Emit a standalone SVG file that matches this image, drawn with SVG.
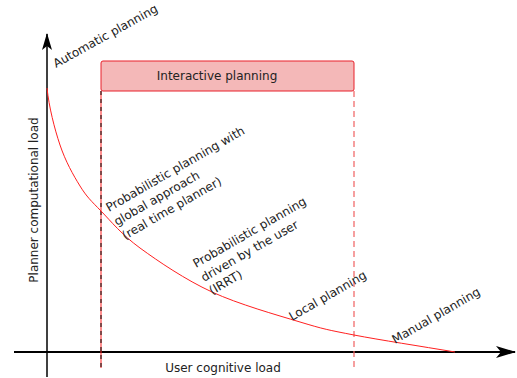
<svg xmlns="http://www.w3.org/2000/svg" width="517" height="378" viewBox="0 0 517 378">
<style>
text{font-family:"DejaVu Sans","Liberation Sans",sans-serif;font-size:12px;fill:#222}
.axis{stroke:#000;fill:none}
.curve{stroke:#ff2020;stroke-width:1;fill:none}
</style>
<defs>
<marker id="arr" viewBox="0 0 20 12" refX="19" refY="6" markerWidth="20" markerHeight="12" markerUnits="userSpaceOnUse" orient="auto">
<path d="M0,0 L20,6 L0,12 L5,6 Z" fill="#000"/>
</marker>
<marker id="arrS" viewBox="0 0 17 10" refX="16" refY="5" markerWidth="17" markerHeight="10" markerUnits="userSpaceOnUse" orient="auto">
<path d="M0,0 L17,5 L0,10 L4,5 Z" fill="#000"/>
</marker>
</defs>
<g id="connectors">
<line class="axis" x1="47" y1="377" x2="47" y2="34" stroke-width="1.5" marker-end="url(#arrS)"/>
<line class="axis" x1="14" y1="352" x2="515" y2="352" stroke-width="2" marker-end="url(#arr)"/>
<line x1="101" y1="91" x2="101" y2="368" stroke="#ff2020" stroke-width="1"/>
<line x1="101" y1="91" x2="101" y2="368" stroke="#000" stroke-width="1" stroke-dasharray="4,4"/>
<line x1="354" y1="91" x2="354" y2="368" stroke="#f06060" stroke-width="1.2" stroke-dasharray="6,4"/>
<path class="curve" d="M47,88 C49,107 54.5,128.7 60,145 C65.5,161.3 73.2,175 80,186 C86.8,197 91,200.7 101,211 C111,221.3 121.5,234.5 140,248 C158.5,261.5 185.3,279.7 212,292 C238.7,304.3 276.3,314.8 300,322 C323.7,329.2 328.2,330 354,335 C379.8,340 421.3,346.3 455,352"/>
</g>
<g id="interactive">
<rect x="101" y="61" width="253" height="30" rx="2" fill="#f4b8b8" stroke="#e8202a" stroke-width="1"/>
<text x="217" y="80" text-anchor="middle" font-size="12.5">Interactive planning</text>
</g>
<g id="automatic">
<text transform="translate(56,68) rotate(-29)">Automatic planning</text>
</g>
<g id="global">
<text transform="translate(109,212) rotate(-30)">Probabilistic planning with</text>
<text transform="translate(117,226) rotate(-30)">global approach</text>
<text transform="translate(125,240) rotate(-30)">(real time planner)</text>
</g>
<g id="irrt">
<text transform="translate(196,268) rotate(-30)">Probabilistic planning</text>
<text transform="translate(204,282) rotate(-30)">driven by the user</text>
<text transform="translate(212,295) rotate(-30)">(IRRT)</text>
</g>
<g id="local">
<text transform="translate(292,321) rotate(-30)">Local planning</text>
</g>
<g id="manual">
<text transform="translate(395,344) rotate(-30)">Manual planning</text>
</g>
<g id="ylabel">
<text transform="translate(38,200) rotate(-90)" text-anchor="middle">Planner computational load</text>
</g>
<g id="xlabel">
<text x="223" y="372" text-anchor="middle">User cognitive load</text>
</g>
</svg>
